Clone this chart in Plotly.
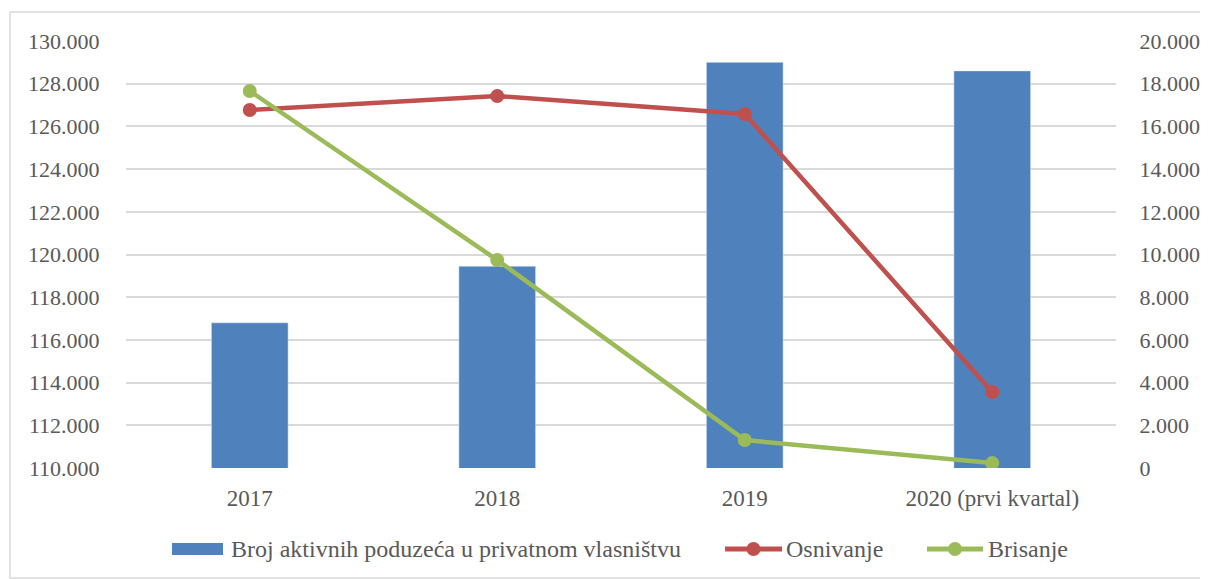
import plotly.graph_objects as go

categories = ["2017", "2018", "2019", "2020 (prvi kvartal)"]
aktivna = [116800, 119450, 129000, 128600]
osnivanje = [16770, 17420, 16580, 3560]
brisanje = [17660, 9740, 1310, 230]

BLUE = "#4F81BD"
RED = "#C0504D"
GREEN = "#9BBB59"
TXT = "#595959"
FONT = "Liberation Serif"

OFF = 8  # default page body margin
W, H = 1208 - OFF, 579 - OFF
# plot area in page pixels: x 126..1116, y 41..468
L, T = 126 - OFF, 41 - OFF
PW, PH = 990, 427
R = W - L - PW
B = H - T - PH

def px(x):
    return (x - OFF - L) / PW

def py(y):
    return (T + PH - (y - OFF)) / PH

fig = go.Figure()
fig.add_trace(go.Bar(x=categories, y=aktivna, marker_color=BLUE, width=0.31,
                     name="Broj aktivnih poduzeća u privatnom vlasništvu"))
fig.add_trace(go.Scatter(x=categories, y=osnivanje, yaxis="y2", mode="lines+markers",
                         line=dict(color=RED, width=4.5), marker=dict(size=14, color=RED),
                         name="Osnivanje"))
fig.add_trace(go.Scatter(x=categories, y=brisanje, yaxis="y2", mode="lines+markers",
                         line=dict(color=GREEN, width=4.5), marker=dict(size=14, color=GREEN),
                         name="Brisanje"))

shapes = []
annotations = []
# outer border
shapes.append(dict(type="rect", xref="paper", yref="paper",
                   x0=px(10), x1=px(1207), y0=py(578), y1=py(12),
                   line=dict(color="#d9d9d9", width=1.5), fillcolor="rgba(0,0,0,0)", layer="below"))
# custom legend
ly = 549
shapes.append(dict(type="rect", xref="paper", yref="paper",
                   x0=px(172), x1=px(223), y0=py(555), y1=py(543),
                   line=dict(width=0), fillcolor=BLUE))
for (x0, x1, col) in [(725, 782, RED), (927, 983, GREEN)]:
    shapes.append(dict(type="line", xref="paper", yref="paper",
                       x0=px(x0), x1=px(x1), y0=py(ly), y1=py(ly),
                       line=dict(color=col, width=5)))
    c = (x0 + x1) / 2
    shapes.append(dict(type="circle", xref="paper", yref="paper",
                       x0=px(c - 7), x1=px(c + 7),
                       y0=py(ly + 7), y1=py(ly - 7),
                       line=dict(width=0), fillcolor=col))
for (x0, txt) in [(229, "Broj aktivnih poduzeća u privatnom vlasništvu"),
                  (784, "Osnivanje"), (986, "Brisanje")]:
    annotations.append(dict(xref="paper", yref="paper", x=px(x0), y=py(ly),
                            xanchor="left", yanchor="middle", showarrow=False,
                            text=txt, font=dict(family=FONT, size=24, color=TXT)))

fig.update_layout(
    width=W, height=H,
    margin=dict(l=L, r=R, t=T, b=B, autoexpand=False),
    paper_bgcolor="white", plot_bgcolor="white",
    separators=",.",
    showlegend=False,
    font=dict(family=FONT, size=22, color=TXT),
    xaxis=dict(showgrid=False, showline=False, ticks="", ticklabelstandoff=14,
               automargin=False,
               tickfont=dict(family=FONT, size=23, color=TXT)),
    yaxis=dict(range=[110000, 130000], dtick=2000, tickformat=",d", automargin=False,
               showgrid=True, gridcolor="#d9d9d9", gridwidth=1.5, zeroline=False,
               showline=False, ticks="outside", ticklen=21, tickcolor="rgba(0,0,0,0)",
               tickfont=dict(family=FONT, size=22, color=TXT)),
    yaxis2=dict(range=[0, 20000], dtick=2000, tickformat=",d", overlaying="y",
                side="right", showgrid=False, zeroline=False, showline=False,
                automargin=False,
                ticks="outside", ticklen=18, tickcolor="rgba(0,0,0,0)",
                tickfont=dict(family=FONT, size=22, color=TXT)),
    shapes=shapes,
    annotations=annotations,
)

fig.write_html("out.html")
